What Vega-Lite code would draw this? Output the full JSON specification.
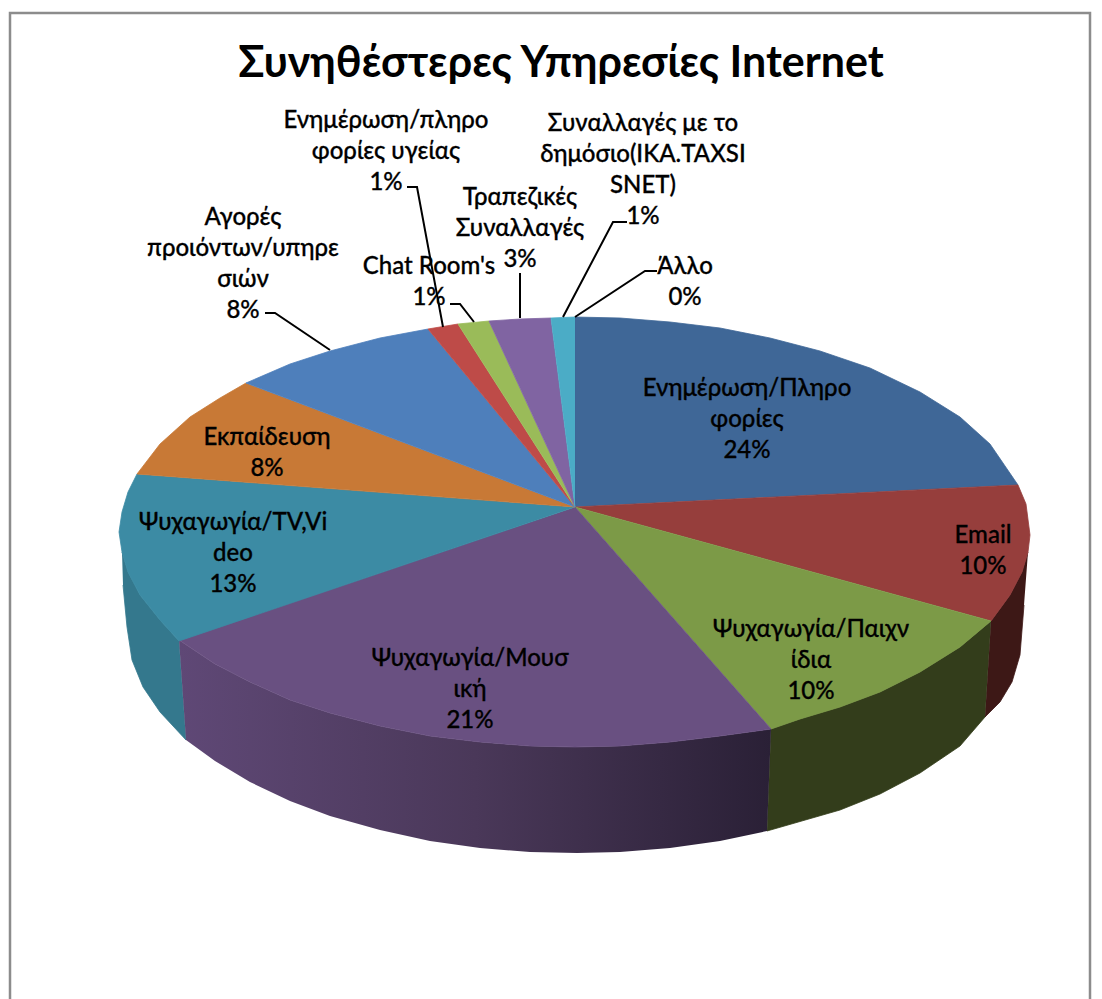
{
"$schema":"https://vega.github.io/schema/vega-lite/v6.json",
"width":1080,"height":990,
"autosize":{"type":"none"},
"padding":{"left":10,"top":13,"right":12,"bottom":0},
"background":"white",
"config":{"view":{"stroke":"#8c8c8c","strokeWidth":2.5}},
"title":{"text":"Συνηθέστερες Υπηρεσίες Internet","font":"Lato","fontSize":43,"fontWeight":"bold","color":"#000000","anchor":"middle","frame":"group","baseline":"alphabetic","offset":-107,"dx":11},
"layer":[
{"data":{"values":[
{"slice":"Email side","xs":[1028,1022,1010,1002,991,985,1000,1012,1020,1024],"ys":[552,572,595,606,621,717,702,682,655,605]},
{"slice":"Games side","xs":[991,960,920,880,840,800,771,767,840,880,920,960,985],"ys":[621,647,672,692,707,719,729,831,810,794,773,746,717]},
{"slice":"TV side","xs":[122,128,140,160,179,186,160,143,132,127,123],"ys":[552,572,595,620,641,740,712,687,660,627,585]}
]},
"transform":[{"flatten":["xs","ys"]}],
"mark":{"type":"line","filled":true,"strokeWidth":0.8},
"encoding":{
"x":{"field":"xs","type":"quantitative","axis":null,"scale":{"domain":[10,1090],"nice":false,"zero":false}},
"y":{"field":"ys","type":"quantitative","axis":null,"scale":{"domain":[1003,13],"nice":false,"zero":false}},
"order":{"value":null},
"color":{"field":"slice","type":"nominal","legend":null,"scale":{"domain":["Email side","Games side","TV side","Ενημέρωση/Πληροφορίες","Email","Ψυχαγωγία/Παιχνίδια","Ψυχαγωγία/Μουσική","Ψυχαγωγία/TV,Video","Εκπαίδευση","Αγορές προιόντων/υπηρεσιών","Ενημέρωση/πληροφορίες υγείας","Chat Room's","Τραπεζικές Συναλλαγές","Συναλλαγές με το δημόσιο(ΙΚΑ.TAXSISNET)"],"range":["#3d1816","#333d1b","#34788d","#3f6797","#963e3c","#7c9a47","#695081","#3c8ba4","#c87936","#4e7fbb","#be4b48","#9abb59","#8064a2","#4bacc6"]}},
"stroke":{"field":"slice","type":"nominal","legend":null,"scale":{"domain":["Email side","Games side","TV side","Ενημέρωση/Πληροφορίες","Email","Ψυχαγωγία/Παιχνίδια","Ψυχαγωγία/Μουσική","Ψυχαγωγία/TV,Video","Εκπαίδευση","Αγορές προιόντων/υπηρεσιών","Ενημέρωση/πληροφορίες υγείας","Chat Room's","Τραπεζικές Συναλλαγές","Συναλλαγές με το δημόσιο(ΙΚΑ.TAXSISNET)"],"range":["#3d1816","#333d1b","#34788d","#3f6797","#963e3c","#7c9a47","#695081","#3c8ba4","#c87936","#4e7fbb","#be4b48","#9abb59","#8064a2","#4bacc6"]}}
}},
{"data":{"values":[
{"slice":"Music side","xs":[179,215,250,290,330,380,430,480,530,575,620,670,720,771,767,720,670,620,577,530,480,430,380,330,290,250,215,186],"ys":[640,664,682,700,713,726,736,742,746,747,746,742,736,729,831,841,848,852,853,852,848,841,830,816,801,782,761,740]}
]},
"transform":[{"flatten":["xs","ys"]}],
"mark":{"type":"line","filled":true,"fill":{"gradient":"linear","x1":0,"y1":0,"x2":1,"y2":0,"stops":[{"offset":0,"color":"#5f4876"},{"offset":0.5,"color":"#4a3859"},{"offset":1,"color":"#2a2036"}]}},
"encoding":{
"x":{"field":"xs","type":"quantitative","axis":null,"scale":{"domain":[10,1090],"nice":false,"zero":false}},
"y":{"field":"ys","type":"quantitative","axis":null,"scale":{"domain":[1003,13],"nice":false,"zero":false}},
"order":{"value":null}
}},
{"data":{"values":[
{"slice":"Ενημέρωση/Πληροφορίες","share":24,"xs":[575,575,620,670,720,770,820,870,920,960,990,1018],"ys":[507,317,318,322,328,338,351,368,392,417,444,485]},
{"slice":"Email","share":10,"xs":[575,1018,1026,1030,1028,1022,1010,1002,991],"ys":[507,485,504,535,552,572,595,606,621]},
{"slice":"Ψυχαγωγία/Παιχνίδια","share":10,"xs":[575,991,960,920,880,840,800,771],"ys":[507,621,647,672,692,707,719,729]},
{"slice":"Ψυχαγωγία/Μουσική","share":21,"xs":[575,771,720,670,620,575,530,480,430,380,330,290,250,215,179],"ys":[507,729,736,742,746,747,746,742,736,726,713,700,682,664,640]},
{"slice":"Ψυχαγωγία/TV,Video","share":13,"xs":[575,179,160,140,128,122,119,122,128,137],"ys":[507,641,620,595,572,552,532,512,492,474]},
{"slice":"Εκπαίδευση","share":8,"xs":[575,137,160,190,220,246],"ys":[507,474,444,417,398,383]},
{"slice":"Αγορές προιόντων/υπηρεσιών","share":8,"xs":[575,246,290,330,380,428],"ys":[507,383,364,351,338,329]},
{"slice":"Ενημέρωση/πληροφορίες υγείας","share":1,"xs":[575,428,458],"ys":[507,329,324]},
{"slice":"Chat Room's","share":1,"xs":[575,458,489],"ys":[507,324,321]},
{"slice":"Τραπεζικές Συναλλαγές","share":3,"xs":[575,489,520,551],"ys":[507,321,319,318]},
{"slice":"Συναλλαγές με το δημόσιο(ΙΚΑ.TAXSISNET)","share":1,"xs":[575,551,575],"ys":[507,318,317]}
]},
"transform":[{"flatten":["xs","ys"]}],
"mark":{"type":"line","filled":true,"strokeWidth":0.8},
"encoding":{
"x":{"field":"xs","type":"quantitative","axis":null,"scale":{"domain":[10,1090],"nice":false,"zero":false}},
"y":{"field":"ys","type":"quantitative","axis":null,"scale":{"domain":[1003,13],"nice":false,"zero":false}},
"order":{"value":null},
"color":{"field":"slice","type":"nominal","legend":null,"scale":{"domain":["Email side","Games side","TV side","Ενημέρωση/Πληροφορίες","Email","Ψυχαγωγία/Παιχνίδια","Ψυχαγωγία/Μουσική","Ψυχαγωγία/TV,Video","Εκπαίδευση","Αγορές προιόντων/υπηρεσιών","Ενημέρωση/πληροφορίες υγείας","Chat Room's","Τραπεζικές Συναλλαγές","Συναλλαγές με το δημόσιο(ΙΚΑ.TAXSISNET)"],"range":["#3d1816","#333d1b","#34788d","#3f6797","#963e3c","#7c9a47","#695081","#3c8ba4","#c87936","#4e7fbb","#be4b48","#9abb59","#8064a2","#4bacc6"]}},
"stroke":{"field":"slice","type":"nominal","legend":null,"scale":{"domain":["Email side","Games side","TV side","Ενημέρωση/Πληροφορίες","Email","Ψυχαγωγία/Παιχνίδια","Ψυχαγωγία/Μουσική","Ψυχαγωγία/TV,Video","Εκπαίδευση","Αγορές προιόντων/υπηρεσιών","Ενημέρωση/πληροφορίες υγείας","Chat Room's","Τραπεζικές Συναλλαγές","Συναλλαγές με το δημόσιο(ΙΚΑ.TAXSISNET)"],"range":["#3d1816","#333d1b","#34788d","#3f6797","#963e3c","#7c9a47","#695081","#3c8ba4","#c87936","#4e7fbb","#be4b48","#9abb59","#8064a2","#4bacc6"]}}
}},
{"data":{"values":[
{"leader":"Αγορές","xs":[265,275,330],"ys":[313,313,350]},
{"leader":"υγεία","xs":[407,417,443],"ys":[187,187,327]},
{"leader":"Chat","xs":[450,460,474],"ys":[304,304,322]},
{"leader":"Τραπεζικές","xs":[520,520],"ys":[273,318]},
{"leader":"Δημόσιο","xs":[627,613,563],"ys":[222,222,317]},
{"leader":"Άλλο","xs":[657,645,575],"ys":[271,271,317]}
]},
"transform":[{"flatten":["xs","ys"]}],
"mark":{"type":"line","color":"#000000","strokeWidth":2},
"encoding":{
"x":{"field":"xs","type":"quantitative","axis":null,"scale":{"domain":[10,1090],"nice":false,"zero":false}},
"y":{"field":"ys","type":"quantitative","axis":null,"scale":{"domain":[1003,13],"nice":false,"zero":false}},
"detail":{"field":"leader"},
"order":{"value":null}
}},
{"data":{"values":[
{"label":"Ενημέρωση/Πληρο\nφορίες\n24%","cx":747,"by":396},
{"label":"Email\n10%","cx":983,"by":543},
{"label":"Ψυχαγωγία/Παιχν\nίδια\n10%","cx":811,"by":637},
{"label":"Ψυχαγωγία/Μουσ\nική\n21%","cx":470,"by":666},
{"label":"Ψυχαγωγία/TV,Vi\ndeo\n13%","cx":233,"by":530},
{"label":"Εκπαίδευση\n8%","cx":267,"by":445},
{"label":"Αγορές\nπροιόντων/υπηρε\nσιών\n8%","cx":243,"by":225},
{"label":"Chat Room's\n1%","cx":429,"by":274},
{"label":"Ενημέρωση/πληρο\nφορίες υγείας\n1%","cx":386,"by":128},
{"label":"Τραπεζικές\nΣυναλλαγές\n3%","cx":520,"by":205},
{"label":"Συναλλαγές με το\nδημόσιο(ΙΚΑ.TAXSI\nSNET)\n1%","cx":643,"by":131},
{"label":"Άλλο\n0%","cx":685,"by":274}
]},
"mark":{"type":"text","font":"Lato","fontSize":24,"fontWeight":500,"color":"#000000","stroke":"#000000","strokeWidth":0.3,"lineBreak":"\n","lineHeight":31,"align":"center","baseline":"alphabetic"},
"encoding":{
"x":{"field":"cx","type":"quantitative","axis":null,"scale":{"domain":[10,1090],"nice":false,"zero":false}},
"y":{"field":"by","type":"quantitative","axis":null,"scale":{"domain":[1003,13],"nice":false,"zero":false}},
"text":{"field":"label"}
}}
]
}
